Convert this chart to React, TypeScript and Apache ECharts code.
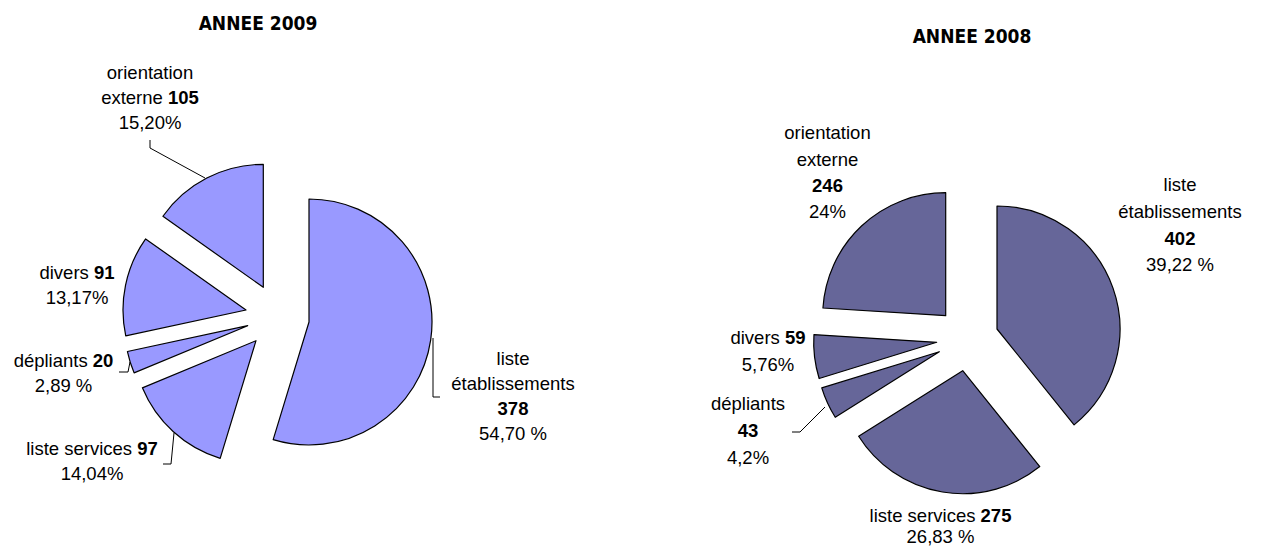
import React, { useEffect, useRef } from "react";
import * as echarts from "echarts";

// ---------- data ----------
const categories = ["liste établissements", "liste services", "dépliants", "divers", "orientation externe"];
const values2009 = [378, 97, 20, 91, 105];
const values2008 = [402, 275, 43, 59, 246];
const pctLabels2009 = ["54,70 %", "14,04%", "2,89 %", "13,17%", "15,20%"];
const pctLabels2008 = ["39,22 %", "26,83 %", "4,2%", "5,76%", "24%"];
const titles = ["ANNEE 2009", "ANNEE 2008"];

// ---------- layout ----------
const RADIUS = 123;
const colors = ["#9999FF", "#666699"];
// center of every exploded slice (its tip)
const sliceCenters2009 = [[309, 322], [256, 340.7], [247.7, 325.7], [246, 310], [263.3, 287.3]];
const sliceCenters2008 = [[997, 329], [962.7, 370.7], [939.3, 351.7], [936.7, 342.3], [945.7, 315.7]];
// label layout: anchor (center x, top y), line break in name, separator before value
const labelLayout2009 = [
  { x: 513, y: 345.5, lh: 25, nameBreak: true, valSep: "\n" },
  { x: 92, y: 435.5, lh: 25.5, nameBreak: false, valSep: " " },
  { x: 63.5, y: 347.5, lh: 25, nameBreak: false, valSep: " " },
  { x: 77, y: 260, lh: 25.3, nameBreak: false, valSep: " " },
  { x: 150, y: 59.5, lh: 25, nameBreak: true, valSep: " " },
];
const labelLayout2008 = [
  { x: 1180, y: 171.7, lh: 26.6, nameBreak: true, valSep: "\n" },
  { x: 940.5, y: 504.5, lh: 21, nameBreak: false, valSep: " " },
  { x: 748, y: 390.7, lh: 26.6, nameBreak: false, valSep: "\n" },
  { x: 768, y: 324, lh: 26.7, nameBreak: false, valSep: " " },
  { x: 827.5, y: 119.5, lh: 26.4, nameBreak: true, valSep: "\n" },
];
const leaderLines = [
  [[150, 140], [150, 148], [205, 178]],
  [[119, 372], [128, 372], [130, 362]],
  [[163, 464], [171, 464], [174, 433]],
  [[433, 338], [433, 397], [440, 397]],
  [[792, 432], [800, 432], [825, 407]],
];
const titlePos = [[258, 22.5], [972, 36]];

const LABEL_FONT = '"Liberation Sans", Arial, sans-serif';
const LABEL_SIZE = 18.5;

function buildSeries(values: number[], centers: number[][], color: string) {
  return values.map((_, k) => ({
    type: "pie",
    center: centers[k],
    radius: RADIUS,
    startAngle: 90,
    clockwise: true,
    silent: true,
    avoidLabelOverlap: false,
    label: { show: false },
    labelLine: { show: false },
    emphasis: { disabled: true },
    data: values.map((v, i) => ({
      name: categories[i],
      value: v,
      itemStyle:
        i === k
          ? { color, borderColor: "#000", borderWidth: 1.2 }
          : { color: "rgba(0,0,0,0)", borderWidth: 0 },
    })),
  }));
}

function buildLabels(values: number[], pcts: string[], layout: any[]) {
  return values.map((v, i) => {
    const L = layout[i];
    const name = L.nameBreak ? categories[i].replace(" ", "\n") : categories[i];
    const text = `${name}${L.valSep}{b|${v}}\n${pcts[i]}`;
    return {
      type: "text",
      x: L.x,
      y: L.y,
      silent: true,
      style: {
        text,
        align: "center",
        verticalAlign: "top",
        fontFamily: LABEL_FONT,
        fontSize: LABEL_SIZE,
        lineHeight: L.lh,
        fill: "#000",
        rich: {
          b: {
            fontFamily: LABEL_FONT,
            fontSize: LABEL_SIZE,
            fontWeight: "bold",
            lineHeight: L.lh,
            fill: "#000",
          },
        },
      },
    };
  });
}

export default function App() {
  const ref = useRef<HTMLDivElement>(null);
  useEffect(() => {
    if (!ref.current) return;
    const chart = echarts.init(ref.current, undefined, { renderer: "svg" });
    const graphics: any[] = [
      ...titles.map((t, i) => ({
        type: "text",
        x: titlePos[i][0],
        y: titlePos[i][1],
        silent: true,
        style: {
          text: t,
          align: "center",
          verticalAlign: "middle",
          fontFamily: '"DejaVu Sans Condensed", "DejaVu Sans", sans-serif',
          fontWeight: "bold",
          fontSize: 19,
          fill: "#000",
        },
      })),
      ...leaderLines.map((pts) => ({
        type: "polyline",
        silent: true,
        shape: { points: pts },
        style: { stroke: "#000", lineWidth: 1, fill: null },
      })),
      ...buildLabels(values2009, pctLabels2009, labelLayout2009),
      ...buildLabels(values2008, pctLabels2008, labelLayout2008),
    ];
    chart.setOption({
      animation: false,
      backgroundColor: "#fff",
      series: [
        ...buildSeries(values2009, sliceCenters2009, colors[0]),
        ...buildSeries(values2008, sliceCenters2008, colors[1]),
      ],
      graphic: graphics,
    });
    return () => chart.dispose();
  }, []);
  return (
    <div
      ref={ref}
      style={{ position: "fixed", left: 0, top: 0, width: 1264, height: 547, background: "#fff" }}
    />
  );
}
